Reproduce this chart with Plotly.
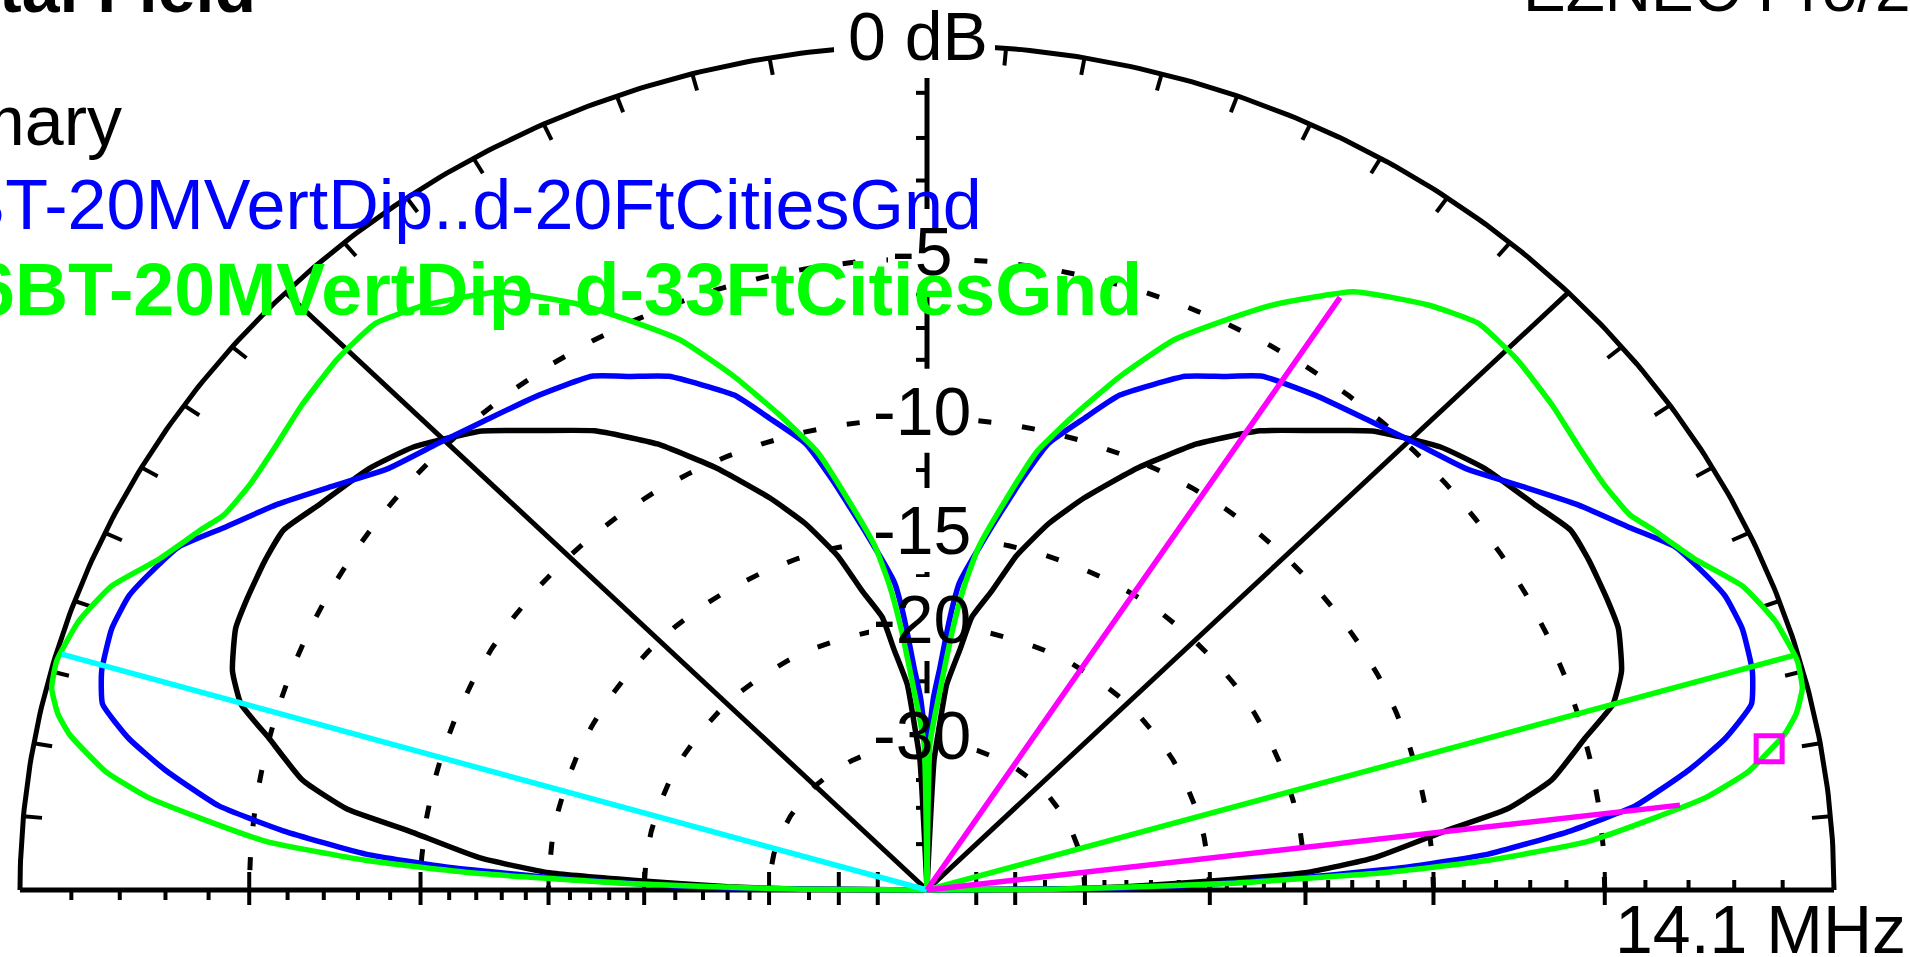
import math
import plotly.graph_objects as go

# ---------------- data (EZNEC elevation plot, ARRL log scale) ----------------
# elevation angle (deg, 0..180) and gain (dB relative to outer ring)
black_elev = [0, 0.5, 1.0, 2.0, 2.8, 4.4, 7.0, 8.5, 10.7, 13.9, 16.2, 18.7, 22.1, 24.7, 28.1, 31.0, 34.2,
              39.0, 42.8, 47.9, 51.7, 56.0, 60.6, 65.1, 69.5, 72.8, 76.0, 78.6, 81.3, 82.7, 84.9, 86.0, 87.1,
              90,
              92.9, 94.0, 95.1, 97.3, 98.7, 101.4, 104.0, 107.2, 110.5, 114.9, 119.4, 124.0, 128.3, 132.1,
              137.2, 141.0, 145.8, 149.0, 151.9, 155.3, 157.9, 161.3, 163.8, 166.1, 169.3, 171.5, 173.0,
              175.6, 177.2, 178.0, 179.0, 179.5, 180]
black_gain = [-99, -33, -26, -19.5, -15.0, -12.1, -9.45, -7.5, -6.1, -5.0, -4.1, -3.65, -3.35, -3.3, -3.25,
              -3.25, -3.6, -4.0, -4.45, -5.35, -6.3, -7.25, -8.6, -10.25, -12.05, -13.55, -15.4, -17.5,
              -19.2, -21.4, -24.2, -28.2, -32.1,
              -99,
              -32.1, -28.2, -24.2, -21.4, -19.2, -17.5, -15.4, -13.55, -12.05, -10.25, -8.6, -7.25, -6.3,
              -5.35, -4.45, -4.0, -3.6, -3.25, -3.25, -3.3, -3.35, -3.65, -4.1, -5.0, -6.1, -7.5, -9.45,
              -12.1, -15.0, -19.5, -26, -33, -99]

blue_elev = [0, 0.5, 1.0, 1.85, 2.97, 3.93, 5.64, 7.28, 9.6, 11.5, 13.6, 15.9, 19.0, 21.6, 23.9, 26.25,
             28.95, 32.5, 36.0, 39.95, 44.4, 48.75, 53.8, 58.7, 61.7, 64.9, 70.05, 72.75, 75.76, 77.85,
             81.0, 84.4, 85.2, 86.0, 86.9, 88.2, 89.5,
             90,
             90.5, 91.8, 93.1, 94.0, 94.8, 95.6, 99.0, 102.15, 104.24, 107.25, 109.95, 115.1, 118.3, 121.3,
             126.2, 131.25, 135.6, 140.05, 144.0, 147.5, 151.05, 153.75, 156.1, 158.4, 161.0, 164.1,
             166.4, 168.5, 170.4, 172.72, 174.36, 176.07, 177.03, 178.15, 179.0, 179.5, 180]
blue_gain = [-99, -28, -22, -15.9, -10.8, -8.2, -5.8, -4.1, -2.75, -1.85, -1.15, -0.95, -0.87, -0.95,
             -1.18, -1.45, -2.08, -2.8, -3.57, -4.35, -4.82, -5.19, -5.51, -5.84, -6.36, -6.84, -8.12,
             -9.22, -10.4, -12.0, -14.6, -17.3, -18.7, -20.6, -22.9, -25.4, -30,
             -99,
             -30, -25.4, -22.9, -20.6, -18.7, -17.3, -14.6, -12.0, -10.4, -9.22, -8.12, -6.84, -6.36,
             -5.84, -5.51, -5.19, -4.82, -4.35, -3.57, -2.8, -2.08, -1.45, -1.18, -0.95, -0.87, -0.95,
             -1.15, -1.85, -2.75, -4.1, -5.8, -8.2, -10.8, -15.9, -22, -28, -99]

green_elev = [0, 0.4, 0.8, 1.35, 2.3, 3.25, 4.5, 6.06, 7.3, 8.8, 11.0, 12.3, 13.9, 15.8, 18.8, 21.8, 24.8,
              26.8, 28.0, 29.8, 32.8, 36.4, 39.7, 44.0, 47.8, 51.4, 56.4, 61.1, 63.9, 67.35, 70.7, 73.8,
              76.85, 79.5, 82.0, 83.4, 84.7, 86.5, 88.9,
              90,
              91.1, 93.5, 95.3, 96.6, 98.0, 100.5, 103.15, 106.2, 109.3, 112.65, 116.1, 118.9, 123.6,
              128.6, 132.2, 136.0, 140.3, 143.6, 147.2, 150.2, 152.0, 153.2, 155.2, 158.2, 161.2, 164.2,
              166.1, 167.7, 169.0, 171.2, 172.7, 173.94, 175.5, 176.75, 177.7, 178.65, 179.2, 179.6, 180]
green_gain = [-99, -34, -27.6, -19.0, -11.9, -8.2, -5.4, -3.7, -2.45, -1.5, -0.65, -0.33, -0.1, -0.05,
              -0.21, -0.55, -1.19, -1.5, -1.67, -1.94, -2.05, -2.0, -1.87, -1.73, -1.71, -2.08, -2.79,
              -4.02, -4.9, -6.0, -7.55, -9.16, -10.8, -13.1, -15.3, -17.3, -20.0, -24.7, -30,
              -99,
              -30, -24.7, -20.0, -17.3, -15.3, -13.1, -10.8, -9.16, -7.55, -6.0, -4.9, -4.02, -2.79,
              -2.08, -1.71, -1.73, -1.87, -2.0, -2.05, -1.94, -1.67, -1.5, -1.19, -0.55, -0.21, -0.05,
              -0.1, -0.33, -0.65, -1.5, -2.45, -3.7, -5.4, -8.2, -11.9, -19.0, -27.6, -34, -99]

# marker lines (angle deg, gain dB at the end)
green_max_angle, green_max_gain = 16.2, -0.08      # green line, right side
cyan_max_angle, cyan_max_gain = 163.7, -0.1        # cyan line, left side
bw_angles, bw_gain = [57.0, 6.9], -3.07            # magenta -3 dB lines
cursor_angle, cursor_gain = 10.2, -1.0             # magenta cursor box

# grid / scale
ring_db = [-5, -10, -15, -20, -30]
ring_labels = ["-5", "-10", "-15", "-20", "-30"]
tick_short_db = [-1, -2, -3, -4, -6, -7, -8, -9, -11, -12, -13, -14, -16, -17, -18, -19,
                 -22, -24, -26, -28, -35]
tick_long_db = [-5, -10, -15, -20, -30, -40, -50]
arc_tick_deg = [5, 10, 15, 20, 25, 30, 35, 40, 45, 50, 55, 60, 65, 70, 75, 80, 85,
                95, 100, 105, 110, 115, 120, 125, 130, 135, 140, 145, 150, 155, 160, 165, 170, 175]

title_text = "Total Field"
brand_text = "EZNEC Pro/2"
freq_text = "14.1 MHz"
top_text = "0 dB"
legend_texts = ["Primary", "K6BT-20MVertDip..d-20FtCitiesGnd", "K6BT-20MVertDip..d-33FtCitiesGnd"]

# ---------------- geometry ----------------
W, H = 1910, 957
CX, CY = 927.0, 890.0     # pixel position of the plot centre
RX, RY = 907.0, 845.0     # pixel radii of the outer (0 dB) ring
FONT = "Liberation Sans, Arial, sans-serif"
BLACK, BLUE, GREEN, CYAN, MAGENTA = "#000000", "#0000ff", "#00ff00", "#00ffff", "#ff00ff"


def rad(db):
    return 0.89 ** (-db / 2.0)          # ARRL log scale


def pol(elev, gain):
    xs, ys = [], []
    for a, g in zip(elev, gain):
        r = rad(g)
        xs.append(r * math.cos(math.radians(a)))
        ys.append(r * math.sin(math.radians(a)))
    return xs, ys


def dpx(X, Y):
    return (X - CX) / RX, (CY - Y) / RY


fig = go.Figure()


def lines(xs, ys, color, width, dash=None, shape="linear"):
    fig.add_trace(go.Scatter(x=xs, y=ys, mode="lines",
                             line=dict(color=color, width=width, dash=dash, shape=shape,
                                       smoothing=0.45 if shape == "spline" else None),
                             hoverinfo="skip", showlegend=False))


def segs(seglist, color, width):
    xs, ys = [], []
    for x0, y0, x1, y1 in seglist:
        xs += [x0, x1, None]
        ys += [y0, y1, None]
    lines(xs, ys, color, width)


arc_deg = [i * 0.5 for i in range(361)]

# outer ring
ax, ay = pol(arc_deg, [0] * len(arc_deg))
lines(ax, ay, BLACK, 5)

# dashed rings
for db in ring_db:
    rx, ry = pol(arc_deg, [db] * len(arc_deg))
    lines(rx, ry, BLACK, 5, dash="13px,31px")

# axes and diagonals
segs([(-1, 0, 1, 0),
      (0, 0, 0, 1),
      (0, 0, math.cos(math.radians(45)), math.sin(math.radians(45))),
      (0, 0, math.cos(math.radians(135)), math.sin(math.radians(135)))], BLACK, 5)

# ticks on the outer ring (inward)
tin = 1 - 18.0 / 876.0
segs([(math.cos(math.radians(a)), math.sin(math.radians(a)),
       tin * math.cos(math.radians(a)), tin * math.sin(math.radians(a))) for a in arc_tick_deg], BLACK, 4)

# ticks on baseline and vertical axis
s_out = 10.0 / RY
l_up, l_dn = 18.0 / RY, 15.0 / RY
vt = 11.0 / RX
tk = []
for db in tick_short_db:
    r = rad(db)
    tk.append((-r, 0, -r, -s_out))     # left: below
    tk.append((r, 0, r, s_out))        # right: above
    tk.append((0, r, -vt, r))          # vertical axis: to the left
for db in tick_long_db:
    r = rad(db)
    tk.append((-r, l_up, -r, -l_dn))
    tk.append((r, l_up, r, -l_dn))
    tk.append((0, r, -vt, r))
segs(tk, BLACK, 4)

# white boxes behind the scale labels (break the grid lines)
LBL_X = 922.0
label_w = {"-5": 62, "-10": 100, "-15": 100, "-20": 100, "-30": 100}
bx, by = [], []
for db, lab in zip(ring_db, ring_labels):
    yc = CY - RY * rad(db) - 7.5
    w = label_w[lab] / 2 + 3
    x0, y0 = dpx(LBL_X - w, yc - 42)
    x1, y1 = dpx(LBL_X + w, yc + 42)
    bx += [x0, x1, x1, x0, x0, None]
    by += [y0, y0, y1, y1, y0, None]
x0, y0 = dpx(834, -20)
x1, y1 = dpx(995, 78)
bx += [x0, x1, x1, x0, x0]
by += [y0, y0, y1, y1, y0]
fig.add_trace(go.Scatter(x=bx, y=by, mode="lines", line=dict(width=0, color="white"),
                         fill="toself", fillcolor="white", hoverinfo="skip", showlegend=False))

# pattern traces (each lobe smoothed separately, split at the overhead null)
for el, gn, col in [(black_elev, black_gain, BLACK), (blue_elev, blue_gain, BLUE),
                    (green_elev, green_gain, GREEN)]:
    px_, py_ = pol(el, gn)
    k = el.index(90)
    xs = px_[:k + 1] + [None] + px_[k:]
    ys = py_[:k + 1] + [None] + py_[k:]
    lines(xs, ys, col, 5.5, shape="spline")

# max-gain and beamwidth lines
gx, gy = pol([green_max_angle], [green_max_gain])
lines([0, gx[0]], [0, gy[0]], GREEN, 5.5)
cx_, cy_ = pol([cyan_max_angle], [cyan_max_gain])
lines([0, cx_[0]], [0, cy_[0]], CYAN, 5.5)
mx, my = pol(bw_angles, [bw_gain] * len(bw_angles))
lines([0, mx[0], None, 0, mx[1]], [0, my[0], None, 0, my[1]], MAGENTA, 5.5)
kx, ky = pol([cursor_angle], [cursor_gain])
fig.add_trace(go.Scatter(x=kx, y=ky, mode="markers",
                         marker=dict(symbol="square-open", size=26, color=MAGENTA,
                                     line=dict(width=5, color=MAGENTA)),
                         hoverinfo="skip", showlegend=False))


# ---------------- texts ----------------
def ann(text, X, Ymid, xanchor, size=68, color=BLACK, bold=False):
    fig.add_annotation(x=X / W, y=1 - Ymid / H, xref="paper", yref="paper",
                       text=("<b>%s</b>" % text) if bold else text, showarrow=False,
                       xanchor=xanchor, yanchor="middle", borderpad=0,
                       font=dict(family=FONT, size=size, color=color))


ann(title_text, 257, -12, "right", bold=True)
ann(brand_text, 1522, -11, "left", size=64)
ann(legend_texts[0], 123, 121, "right", size=70, color=BLACK)
ann(legend_texts[1], 983, 205, "right", size=70, color=BLUE)
ann(legend_texts[2], 1143, 289, "right", size=73.5, color=GREEN, bold=True)
ann(top_text, 918, 36.5, "center")
ann(freq_text, 1760, 929, "center")
for db, lab in zip(ring_db, ring_labels):
    ann(lab, LBL_X, CY - RY * rad(db) - 7.5, "center")

fig.update_layout(
    width=W, height=H, margin=dict(l=0, r=0, t=0, b=0),
    paper_bgcolor="white", plot_bgcolor="white", showlegend=False,
    xaxis=dict(range=[-CX / RX, (W - CX) / RX], visible=False, fixedrange=True),
    yaxis=dict(range=[-(H - CY) / RY, CY / RY], visible=False, fixedrange=True),
)

fig.write_html("out.html")
